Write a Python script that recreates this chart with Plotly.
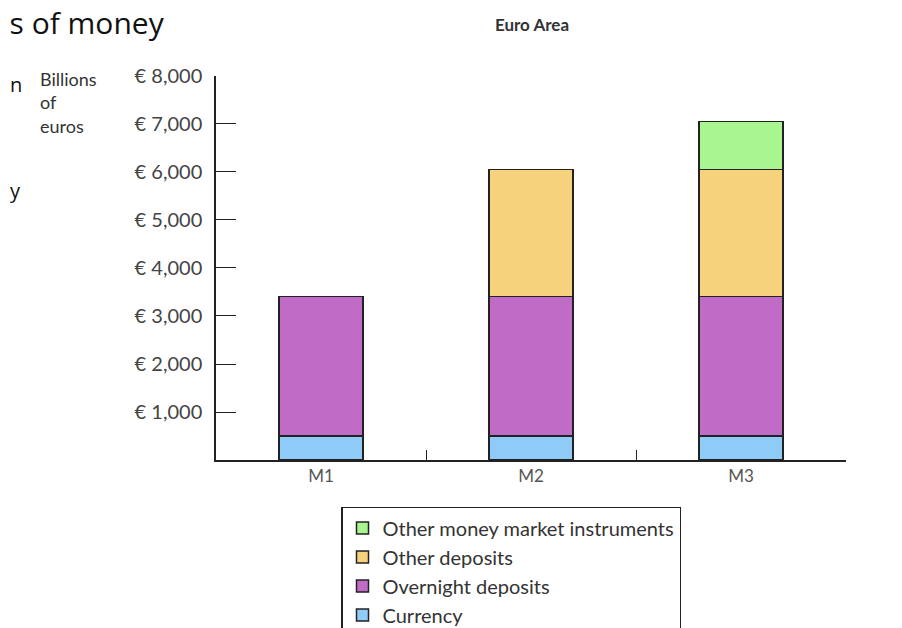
import plotly.graph_objects as go

categories = ['M1', 'M2', 'M3']
currency = [500, 500, 500]
overnight = [2900, 2900, 2900]
other_deposits = [0, 2650, 2650]
money_market = [0, 0, 1000]
tick_vals = [1000, 2000, 3000, 4000, 5000, 6000, 7000, 8000]
tick_text = ['€ 1,000', '€ 2,000', '€ 3,000', '€ 4,000',
             '€ 5,000', '€ 6,000', '€ 7,000', '€ 8,000']

font = 'Lato'
W, H = 902, 628
fig = go.Figure()

series = [('Currency', currency, '#8ecbf7'),
          ('Overnight deposits', overnight, '#c06cc6'),
          ('Other deposits', other_deposits, '#f7d27c'),
          ('Other money market instruments', money_market, '#a9f590')]
for name, vals, color in series:
    fig.add_trace(go.Bar(x=categories, y=vals, name=name, width=0.4,
                         marker=dict(color=color, line=dict(color='#222', width=1.5))))

fig.update_layout(
    barmode='stack', width=W, height=H,
    margin=dict(l=0, r=0, t=0, b=0),
    plot_bgcolor='white', paper_bgcolor='white',
    font=dict(family=font, color='#333', size=18),
    title=dict(text='<b>Euro Area</b>', x=524 / W, y=1 - 17 / H, xanchor='center',
               yanchor='middle', font=dict(size=17, color='#333')),
    xaxis=dict(domain=[208 / W, 838 / W], range=[-0.5, 2.5], tickson='boundaries',
               ticks='inside', ticklen=10, tickcolor='#222', showline=True,
               linecolor='#222', linewidth=1.5, tickfont=dict(size=17, color='#555')),
    yaxis=dict(domain=[(H - 506) / H, (H - 63) / H], range=[0, 8000], tickvals=tick_vals,
               ticktext=tick_text, ticks='inside', ticklen=20, tickcolor='#222',
               showline=True, linecolor='#222', linewidth=1.5, showgrid=False,
               zeroline=False, ticklabelstandoff=8, tickfont=dict(size=20, color='#444')),
    legend=dict(x=333 / W, y=(H - 560) / H, xanchor='left', yanchor='top',
                traceorder='reversed', bordercolor='#222', borderwidth=1.5,
                font=dict(size=20, color='#333'), itemwidth=30),
    showlegend=True,
)

fig.add_annotation(text='Billions<br>of<br>euros', xref='paper', yref='paper',
                   x=30 / W, y=(H - 52) / H, xanchor='left', yanchor='top', align='left',
                   showarrow=False, font=dict(size=18, color='#333'))
fig.add_annotation(text='is of money', xref='paper', yref='paper', x=-8 / W, y=(H - 2) / H,
                   xanchor='left', yanchor='middle', showarrow=False,
                   font=dict(family='Open Sans', size=30, color='#111'))
fig.add_annotation(text='n', xref='paper', yref='paper', x=0, y=(H - 55) / H,
                   xanchor='left', showarrow=False,
                   font=dict(family='Open Sans', size=20, color='#111'))
fig.add_annotation(text='y', xref='paper', yref='paper', x=0, y=(H - 178) / H,
                   xanchor='left', showarrow=False,
                   font=dict(family='Open Sans', size=20, color='#111'))

fig.write_html('out.html')
